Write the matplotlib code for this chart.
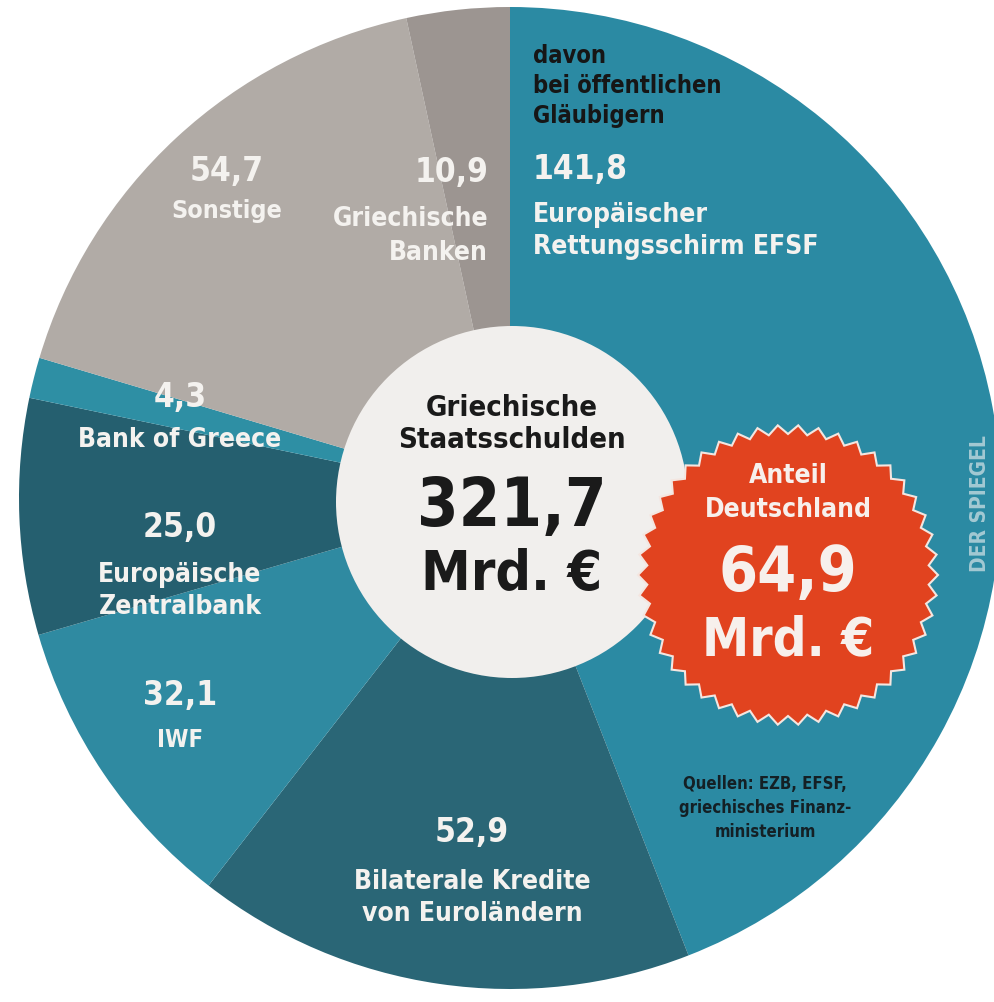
import numpy as np
import matplotlib
matplotlib.use("Agg")
from matplotlib import pyplot as plt
from matplotlib.patches import Circle, Polygon

# Griechische Staatsschulden, Mrd. Euro (im Uhrzeigersinn ab 12 Uhr)
names = ["Europäischer\nRettungsschirm EFSF", "Bilaterale Kredite\nvon Euroländern", "IWF",
         "Europäische\nZentralbank", "Bank of Greece", "Sonstige", "Griechische\nBanken"]
values = [141.8, 52.9, 32.1, 25.0, 4.3, 54.7, 10.9]
value_labels = ["141,8", "52,9", "32,1", "25,0", "4,3", "54,7", "10,9"]
colors = ["#2b8aa3", "#2a6676", "#2f8aa1", "#255f6f", "#2e8fa4", "#b1aba6", "#9c9591"]
total_label = "321,7"
germany_label = "64,9"

font = dict(family="DejaVu Sans", fontstretch="condensed", fontweight="bold")

fig = plt.figure(figsize=(9.95, 10.03), dpi=100)
ax = fig.add_axes([0, 0, 1, 1])
ax.set_xlim(0, 995)
ax.set_ylim(1003, 0)
ax.set_aspect("equal")
ax.axis("off")

# y axis is flipped, so startangle=-90 + counterclock gives clockwise from the top
ax.pie(values, colors=colors, startangle=-90, counterclock=True,
       center=(510, 499), radius=491, wedgeprops=dict(linewidth=0))
ax.set_xlim(0, 995)
ax.set_ylim(1003, 0)

# white centre
ax.add_patch(Circle((512, 503), 176, facecolor="#f1efed", edgecolor="none", zorder=3))
ax.text(512, 424, "Griechische\nStaatsschulden", ha="center", va="center", fontsize=21,
        color="#1a1a1a", linespacing=1.15, zorder=4, **font)
ax.text(512, 507, total_label, ha="center", va="center", fontsize=48, color="#1a1a1a", zorder=4, **font)
ax.text(512, 575, "Mrd. €", ha="center", va="center", fontsize=40, color="#1a1a1a", zorder=4, **font)

# red starburst
n = 46
ang = np.linspace(0, 2 * np.pi, 2 * n, endpoint=False)
rad = np.where(np.arange(2 * n) % 2 == 0, 150, 141)
star = np.column_stack([788 + rad * np.cos(ang), 576 + rad * np.sin(ang)])
ax.add_patch(Polygon(star, closed=True, facecolor="#e1431f", edgecolor="#f4e6e0",
                     linewidth=1.5, zorder=5))
ax.text(788, 493, "Anteil\nDeutschland", ha="center", va="center", fontsize=19,
        color="#f7f0ec", linespacing=1.4, zorder=6, **font)
ax.text(788, 574, germany_label, ha="center", va="center", fontsize=45, color="#f7f0ec", zorder=6, **font)
ax.text(788, 640, "Mrd. €", ha="center", va="center", fontsize=38, color="#f7f0ec", zorder=6, **font)

white = "#f4f2ef"
# EFSF
ax.text(533, 86, "davon\nbei öffentlichen\nGläubigern", ha="left", va="center", fontsize=17,
        color="#161616", linespacing=1.3, **font)
ax.text(533, 169, value_labels[0], ha="left", va="center", fontsize=24, color=white, **font)
ax.text(533, 231, names[0], ha="left", va="center", fontsize=19, color=white, linespacing=1.3, **font)
# Bilaterale
ax.text(472, 833, value_labels[1], ha="center", va="center", fontsize=24, color=white, **font)
ax.text(472, 898, names[1], ha="center", va="center", fontsize=19, color=white, linespacing=1.3, **font)
# IWF
ax.text(180, 695, value_labels[2], ha="center", va="center", fontsize=24, color=white, **font)
ax.text(180, 740, names[2], ha="center", va="center", fontsize=17, color=white, **font)
# EZB
ax.text(180, 528, value_labels[3], ha="center", va="center", fontsize=24, color=white, **font)
ax.text(180, 591, names[3], ha="center", va="center", fontsize=19, color=white, linespacing=1.25, **font)
# Bank of Greece
ax.text(180, 398, value_labels[4], ha="center", va="center", fontsize=24, color=white, **font)
ax.text(180, 440, names[4], ha="center", va="center", fontsize=19, color=white, **font)
# Sonstige
ax.text(227, 171, value_labels[5], ha="center", va="center", fontsize=24, color=white, **font)
ax.text(227, 211, names[5], ha="center", va="center", fontsize=18, color=white, **font)
# Griechische Banken
ax.text(488, 172, value_labels[6], ha="right", va="center", fontsize=24, color=white, **font)
ax.text(488, 236, names[6], ha="right", va="center", fontsize=19, color=white, linespacing=1.4, **font)

ax.text(765, 808, "Quellen: EZB, EFSF,\ngriechisches Finanz-\nministerium", ha="center", va="center",
        fontsize=12, color="#142025", linespacing=1.45, **font)
ax.text(980, 504, "DER SPIEGEL", rotation=90, ha="center", va="center", fontsize=15,
        color="#a3c9d3", **font)

fig.savefig("out.png", dpi=100)
